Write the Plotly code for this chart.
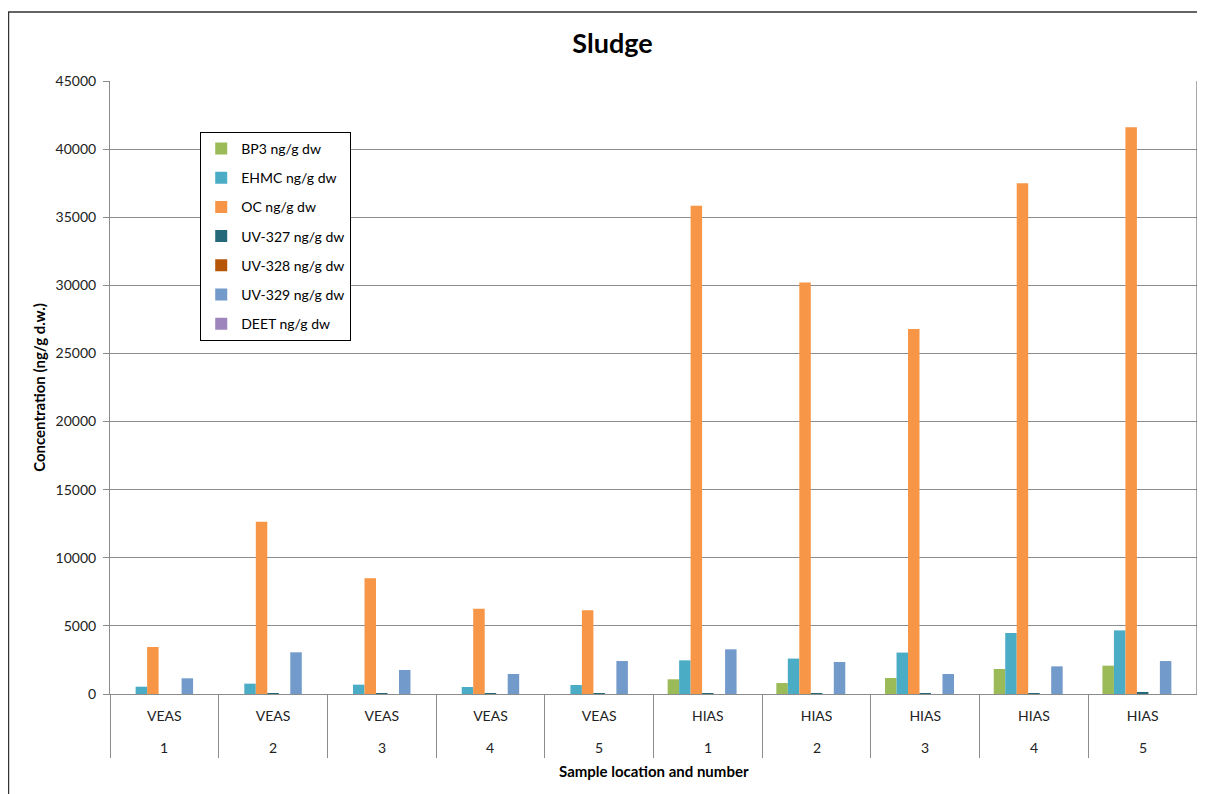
import plotly.graph_objects as go

# Datos (ng/g dw)
ubicacion = ["VEAS"] * 5 + ["HIAS"] * 5
numero = ["1", "2", "3", "4", "5", "1", "2", "3", "4", "5"]

bp3 = [0, 0, 0, 0, 0, 1080, 805, 1175, 1835, 2080]
ehmc = [535, 760, 685, 515, 660, 2470, 2600, 3040, 4480, 4670]
oc = [3450, 12650, 8500, 6250, 6150, 35850, 30200, 26800, 37500, 41600]
uv327 = [0, 50, 20, 10, 40, 50, 50, 50, 60, 150]
uv328 = [0, 0, 0, 0, 0, 0, 0, 0, 0, 0]
uv329 = [1150, 3060, 1760, 1470, 2420, 3280, 2350, 1470, 2030, 2420]
deet = [0, 0, 0, 0, 0, 0, 0, 0, 0, 0]

series = [
    ("BP3 ng/g dw", bp3, "#9BBB59"),
    ("EHMC ng/g dw", ehmc, "#4BACC6"),
    ("OC ng/g dw", oc, "#F79646"),
    ("UV-327 ng/g dw", uv327, "#24687A"),
    ("UV-328 ng/g dw", uv328, "#B65708"),
    ("UV-329 ng/g dw", uv329, "#729ACA"),
    ("DEET ng/g dw", deet, "#9E86BC"),
]

categorias = [f"{u} {n}" for u, n in zip(ubicacion, numero)]

fig = go.Figure()
for nombre, valores, color in series:
    fig.add_trace(go.Bar(x=categorias, y=valores, name=nombre, legendgroup=nombre,
                         marker=dict(color=color, line=dict(width=0))))

fuente = "Lato, 'Open Sans', sans-serif"

# La página añade 8 px de margen al cuerpo: se compensa en tamaño y márgenes
fig.update_layout(
    width=1197, height=786,
    margin=dict(l=102, r=8, t=73, b=100, autoexpand=False),
    paper_bgcolor="white", plot_bgcolor="white",
    barmode="group", bargap=0.26, bargroupgap=0,
    font=dict(family=fuente, size=14, color="#222"),
    title=dict(text="<b>Sludge</b>", x=0.505, xanchor="center", y=0.955,
               yanchor="middle", font=dict(size=27, color="#000")),
    legend=dict(x=0.083, y=0.917, xanchor="left", yanchor="top",
                bgcolor="white", bordercolor="#000", borderwidth=1,
                font=dict(size=14, color="#000"), tracegroupgap=8,
                itemwidth=30),
    showlegend=True,
)

fig.update_yaxes(
    range=[0, 45000], dtick=5000, tickformat="d",
    showgrid=True, gridcolor="#8c8c8c", gridwidth=1,
    showline=True, linecolor="#8c8c8c", linewidth=1,
    ticks="outside", ticklen=6, tickcolor="#8c8c8c",
    tickfont=dict(size=14, color="#222"), ticklabelstandoff=4,
    title=dict(text="<b>Concentration (ng/g d.w.)</b>", standoff=6,
               font=dict(size=15, color="#000")),
    zeroline=False,
)

# Primera fila de etiquetas (ubicación) en el eje; la segunda (número) como anotaciones
fig.update_xaxes(
    type="category", tickvals=categorias, ticktext=ubicacion,
    showline=True, linecolor="#8c8c8c", linewidth=1,
    ticks="outside", tickson="boundaries", ticklen=63, tickcolor="#8c8c8c",
    tickfont=dict(size=14, color="#222"), ticklabelstandoff=9,
)

for cat, num in zip(categorias, numero):
    fig.add_annotation(x=cat, xref="x", y=-0.088, yref="paper", text=num,
                       showarrow=False, yanchor="middle",
                       font=dict(size=14, color="#222"))

fig.add_annotation(x=0.5, xref="paper", y=-0.1256, yref="paper",
                   text="<b>Sample location and number</b>", showarrow=False,
                   yanchor="middle", font=dict(size=15, color="#000"))

# Borde derecho del área de trazado y marco del gráfico
fig.add_shape(type="line", xref="paper", yref="paper", x0=1, x1=1, y0=0, y1=1,
              line=dict(color="#555", width=1))
fig.add_shape(type="rect", xref="paper", yref="paper",
              x0=-0.0934, x1=1.02, y0=-0.3, y1=1.1126,
              line=dict(color="#333", width=1.5))

fig.write_html("out.html")
